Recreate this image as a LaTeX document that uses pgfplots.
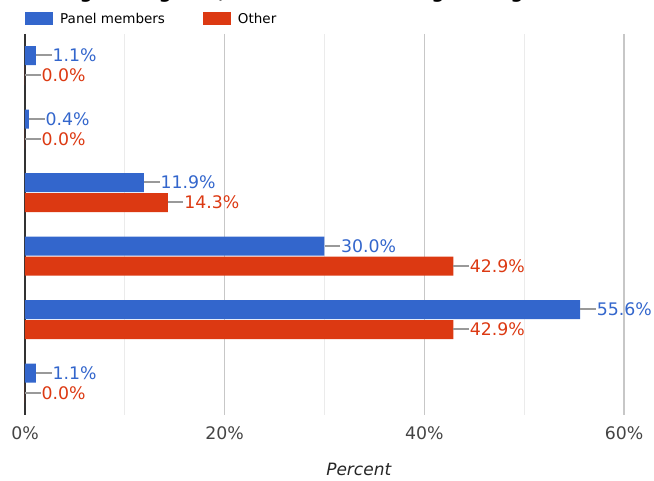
\documentclass[border=0pt]{standalone}
\usepackage{pgfplots}
\pgfplotsset{compat=1.18}
\usepackage{pgfplotstable}
\usepackage{fontspec}
\setmainfont{DejaVu Sans}

\definecolor{gblue}{HTML}{3366CC}
\definecolor{gred}{HTML}{DC3912}
\definecolor{leader}{HTML}{999999}
\definecolor{ticktext}{HTML}{444444}

\newcommand{\lf}{\fontsize{17.3}{20}\selectfont}
% leader line + value
\newcommand{\barlabel}{\textcolor{leader}{\rule[0.33em]{15.5pt}{1.8pt}}\hspace{1pt}\pgfmathprintnumber[fixed,fixed zerofill,precision=1]{\pgfplotspointmeta}\%}

\pgfplotstableread{
cat panel other
1   1.1   0.0
2   0.4   0.0
3   11.9  14.3
4   30.0  42.9
5   55.6  42.9
6   1.1   0.0
}\ratings

\begin{document}
\begin{tikzpicture}
\begin{axis}[
  at={(0,0)}, anchor=south west,
  scale only axis, width=599pt, height=381pt,
  xmin=0, xmax=60, ymin=0.5, ymax=6.5, y dir=reverse,
  xbar, bar width=19pt,
  xtick={0,20,40,60}, minor xtick={10,30,50},
  xticklabel={\pgfmathprintnumber{\tick}\%},
  /pgf/number format/assume math mode=true,
  xticklabel style={font=\lf, text=ticktext, anchor=center, yshift=-18.5pt},
  major tick length=0pt, minor tick length=0pt,
  ytick=\empty,
  xmajorgrids, xminorgrids,
  major grid style={color=black!22, line width=1.3pt},
  minor grid style={color=black!8, line width=1.3pt},
  axis lines*=left,
  axis line style={-},
  x axis line style={draw=none},
  y axis line style={draw=black!80, line width=1.6pt},
  xlabel={\textit{Percent}},
  xlabel style={at={(axis description cs:0,0)}, anchor=center, xshift=334pt, yshift=-54.5pt, font=\fontsize{17}{20}\selectfont, text=black!85},
  title={Average rating: 4.4, Renormalized average rating: 4.5},
  title style={at={(axis description cs:0,1)}, anchor=base west, xshift=-3pt, yshift=29.2pt, inner sep=0pt, font=\bfseries\fontsize{17.8}{20}\selectfont},
  legend columns=2,
  legend image code/.code={\fill (0pt,-6.5pt) rectangle (28pt,6.5pt);},
  legend style={at={(axis description cs:0,1)}, anchor=south west, yshift=8.2pt,
    draw=none, fill=none, inner sep=0pt, font=\fontsize{13.5}{16}\selectfont,
    nodes={inner sep=0pt}, column sep=7pt,
    /tikz/every even column/.append style={column sep=38pt}},
  point meta=x,
  nodes near coords={\barlabel},
  every node near coord/.append style={anchor=west, inner sep=0pt, font=\lf},
]
\addplot[fill=gblue, draw=none, bar shift=10pt,
  every node near coord/.append style={text=gblue}]
  table[x=panel, y=cat] {\ratings};
\addlegendentry{Panel members}
\addplot[fill=gred, draw=none, bar shift=-10pt,
  every node near coord/.append style={text=gred}]
  table[x=other, y=cat] {\ratings};
\addlegendentry{Other}
\end{axis}
\pgfresetboundingbox
\path[use as bounding box] (-25pt,-66.25pt) rectangle (629pt,414.75pt);
\end{tikzpicture}
\end{document}
